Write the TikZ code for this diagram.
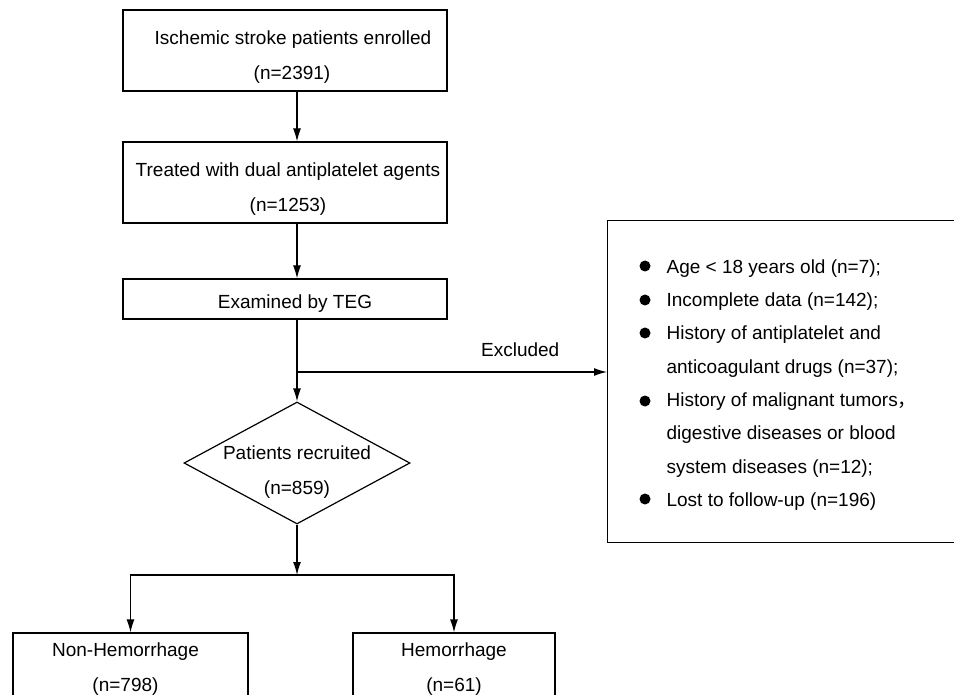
\documentclass[tikz,border=0pt]{standalone}
\usepackage{fontspec}
\setmainfont{Liberation Sans}
\newfontfamily\cjkfont{Noto Sans CJK SC}
\usepackage{tikz}
\usetikzlibrary{shapes.geometric}
\usetikzlibrary{arrows.meta,positioning}
\newcommand{\padtop}[1]{\rule{0pt}{#1}}

\begin{document}
\begin{tikzpicture}[line width=1.2pt, x=1pt, y=-1pt]
\useasboundingbox (0,0) rectangle (954,695);
\clip (0,0) rectangle (954,695);
\tikzstyle{every node}=[font=\fontsize{19}{35}\selectfont] %%
\tikzstyle{box}=[draw, align=center, inner sep=0pt] %%
\tikzstyle{arr}=[-{Latex[length=13pt,width=8pt]}] %%
\node[box, minimum width=324, minimum height=81] (enroll) at (285,50.5) {\padtop{26pt}\hspace*{16pt}Ischemic stroke patients enrolled\\\hspace*{14pt}(n=2391)}; %%
\node[box, minimum width=324, minimum height=81] (treat) at (285,182.5) {\padtop{26pt}\hspace*{6pt}Treated with dual antiplatelet agents\\\hspace*{6pt}(n=1253)}; %%
\node[box, minimum width=324, minimum height=40] (teg) at (285,299) {\padtop{22pt}\hspace*{20pt}Examined by TEG}; %%
\node[diamond, draw, minimum width=226, minimum height=122] (recruit) at (297,463) {}; %%
\node[align=center] (recruittxt) at (297,472) {Patients recruited\\(n=859)}; %%
\node[box, minimum width=235, minimum height=73] (nonhem) at (130.5,669.5) {Non-Hemorrhage\hspace*{10pt}\\(n=798)\hspace*{10pt}}; %%
\node[box, minimum width=202, minimum height=73] (hem) at (454,669.5) {Hemorrhage\\(n=61)}; %%
\node[draw, anchor=north west, inner sep=0pt, minimum width=400, minimum height=322] (excl) at (607,220) {}; %%
\node[anchor=north west, inner sep=0pt, align=left, font=\fontsize{19}{33.3}\selectfont] (excllist) at (666,259)
  {Age < 18 years old (n=7);\\Incomplete data (n=142);\\History of antiplatelet and\\anticoagulant drugs (n=37);\\History of malignant tumors{\cjkfont ，}\\digestive diseases or blood\\system diseases (n=12);\\Lost to follow-up (n=196)};
\foreach \yy in {266,300,333,401,499} \fill (645,\yy) circle (5.5); %%
%\draw[step=10,color=gray] (0,0) grid (954,695);%%
\draw[arr] (enroll.south -| recruit) -- (treat.north -| recruit); %%
\draw[arr] (treat.south -| recruit) -- (teg.north -| recruit); %%
\draw[arr] (teg.south -| recruit) -- (recruit.north); %%
\coordinate (split) at (297,372); %%
\draw[arr] (split) -- (split -| excl.west) node[pos=0.72, above=15pt, inner sep=0pt] (exclabel) {Excluded}; %%
\coordinate (fork) at (297,575); %%
\draw[arr] (recruit.south) -- (fork); %%
\draw[arr] (fork) -| (nonhem); %%
\draw[arr] (fork) -| (hem); %%
\end{tikzpicture}
\end{document}
